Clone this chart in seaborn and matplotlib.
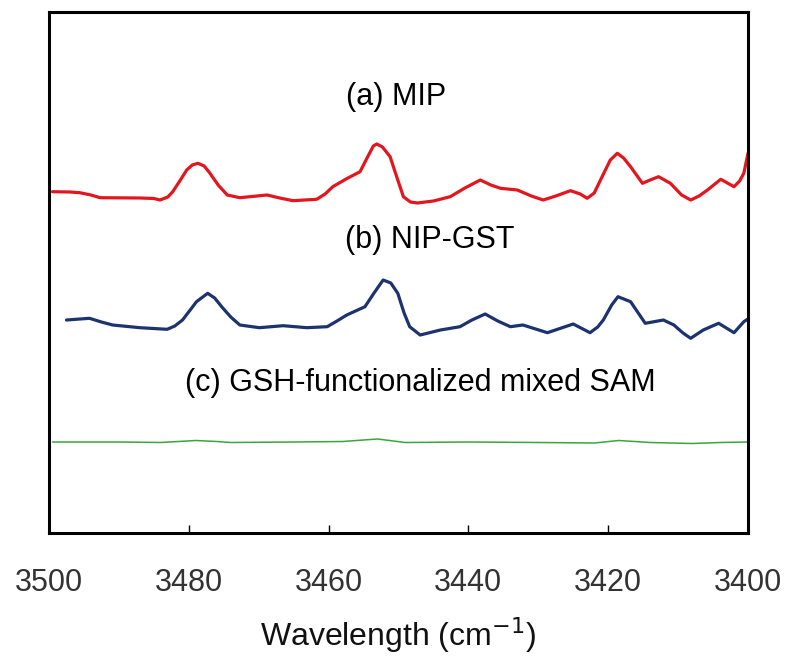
import matplotlib
matplotlib.use("Agg")
import matplotlib.pyplot as plt
import numpy as np
import pandas as pd
import seaborn as sns

# Wavenumber (cm^-1) and offset absorbance (arb. units) for each spectrum
mip_wn = [3499.5, 3497.0, 3495.6, 3494.0, 3492.7, 3487.0, 3485.0, 3484.1, 3483.0,
          3482.3, 3481.2, 3480.3, 3479.5, 3478.7, 3477.8, 3477.0, 3475.8, 3474.5,
          3472.7, 3468.8, 3467.0, 3465.1, 3461.7, 3460.5, 3459.4, 3457.5, 3455.5,
          3454.5, 3453.6, 3453.1, 3452.3, 3451.2, 3450.2, 3449.3, 3448.3, 3447.3,
          3445.0, 3442.6, 3440.5, 3438.3, 3436.8, 3435.4, 3433.0, 3431.0, 3429.3,
          3427.5, 3425.4, 3424.0, 3423.0, 3422.0, 3421.1, 3419.7, 3418.7, 3417.8,
          3416.8, 3415.1, 3414.0, 3412.8, 3411.1, 3409.5, 3408.2, 3407.0, 3405.8,
          3403.9, 3402.0, 3401.2, 3400.6, 3400.0]
mip_abs = [3.413, 3.410, 3.403, 3.380, 3.353, 3.350, 3.345, 3.330, 3.360,
           3.413, 3.530, 3.630, 3.680, 3.697, 3.670, 3.600, 3.480, 3.380,
           3.353, 3.380, 3.350, 3.323, 3.337, 3.390, 3.463, 3.540, 3.613,
           3.750, 3.870, 3.890, 3.860, 3.763, 3.550, 3.363, 3.310, 3.300,
           3.320, 3.363, 3.450, 3.530, 3.480, 3.447, 3.430, 3.370, 3.330,
           3.370, 3.423, 3.390, 3.347, 3.400, 3.530, 3.730, 3.797, 3.750,
           3.663, 3.497, 3.530, 3.563, 3.497, 3.380, 3.330, 3.370, 3.430,
           3.537, 3.463, 3.520, 3.597, 3.797]

nip_wn = [3497.5, 3494.2, 3492.5, 3490.9, 3487.0, 3483.1, 3482.0, 3480.9, 3479.8,
          3478.9, 3477.3, 3476.3, 3475.3, 3474.0, 3472.7, 3469.9, 3466.5, 3463.1,
          3460.2, 3458.8, 3457.4, 3454.8, 3453.5, 3452.2, 3451.1, 3450.1, 3449.2,
          3448.4, 3446.9, 3444.0, 3441.2, 3439.5, 3437.6, 3435.8, 3434.0, 3432.2,
          3428.7, 3425.0, 3422.6, 3421.5, 3420.7, 3419.5, 3418.6, 3416.8, 3415.7,
          3414.7, 3412.1, 3410.6, 3409.3, 3408.2, 3406.4, 3404.2, 3402.0, 3400.6,
          3400.0]
nip_abs = [2.130, 2.147, 2.110, 2.080, 2.053, 2.037, 2.070, 2.130, 2.230,
           2.313, 2.397, 2.350, 2.263, 2.160, 2.080, 2.053, 2.073, 2.053,
           2.063, 2.120, 2.180, 2.263, 2.400, 2.530, 2.500, 2.397, 2.200,
           2.063, 1.980, 2.030, 2.063, 2.130, 2.190, 2.120, 2.063, 2.080,
           2.003, 2.090, 2.003, 2.060, 2.130, 2.280, 2.363, 2.313, 2.200,
           2.097, 2.130, 2.080, 2.000, 1.947, 2.030, 2.097, 2.003, 2.113,
           2.140]

sam_wn = [3499.5, 3490.0, 3484.0, 3479.0, 3476.0, 3474.0, 3465.0, 3458.0, 3453.0,
          3449.0, 3440.0, 3430.0, 3422.0, 3418.5, 3414.0, 3408.0, 3404.0, 3400.0]
sam_abs = [0.910, 0.910, 0.905, 0.925, 0.915, 0.905, 0.910, 0.915, 0.940,
           0.905, 0.910, 0.905, 0.900, 0.925, 0.905, 0.895, 0.905, 0.910]

x_ticks = [3500, 3480, 3460, 3440, 3420, 3400]

labels = ["(a) MIP", "(b) NIP-GST", "(c) GSH-functionalized mixed SAM"]
label_x = [3450.3, 3445.5, 3446.9]
label_y = [4.36, 2.93, 1.50]

sns.set_style("white")
plt.rcParams["font.family"] = ["Liberation Sans", "DejaVu Sans"]

fig = plt.figure(figsize=(7.87, 6.59), dpi=100)
ax = fig.add_axes([49 / 787, 1 - 533 / 659, (748 - 49) / 787, (533 - 12) / 659])

series = [
    (mip_wn, mip_abs, "#e3161d", 2.3),
    (nip_wn, nip_abs, "#1c3370", 2.3),
    (sam_wn, sam_abs, "#3aa53a", 1.1),
]
for wn, ab, col, lw in series:
    df = pd.DataFrame({"wn": wn, "abs": ab})
    sns.lineplot(data=df, x="wn", y="abs", ax=ax, color=col, linewidth=lw,
                 sort=False, estimator=None,
                 solid_joinstyle="round", solid_capstyle="round")

ax.set_xlim(3500, 3400)
ax.set_ylim(0, 5.21)
ax.set_xticks(x_ticks)
ax.set_xticklabels([str(t) for t in x_ticks], fontsize=22, color="#333333")
ax.set_yticks([])
ax.tick_params(axis="x", direction="in", length=6, width=1, color="black",
               pad=25, bottom=True)
for sp in ax.spines.values():
    sp.set_visible(True)
    sp.set_color("black")
    sp.set_linewidth(2.2)

ax.set_xlabel("Wavelength (cm$^{-1}$)", fontsize=23, color="#111111", labelpad=13)
ax.set_ylabel("")

for txt, tx, ty in zip(labels, label_x, label_y):
    ax.text(tx, ty, txt, ha="center", va="center", fontsize=22, color="black")

fig.savefig("out.png", dpi=100)
